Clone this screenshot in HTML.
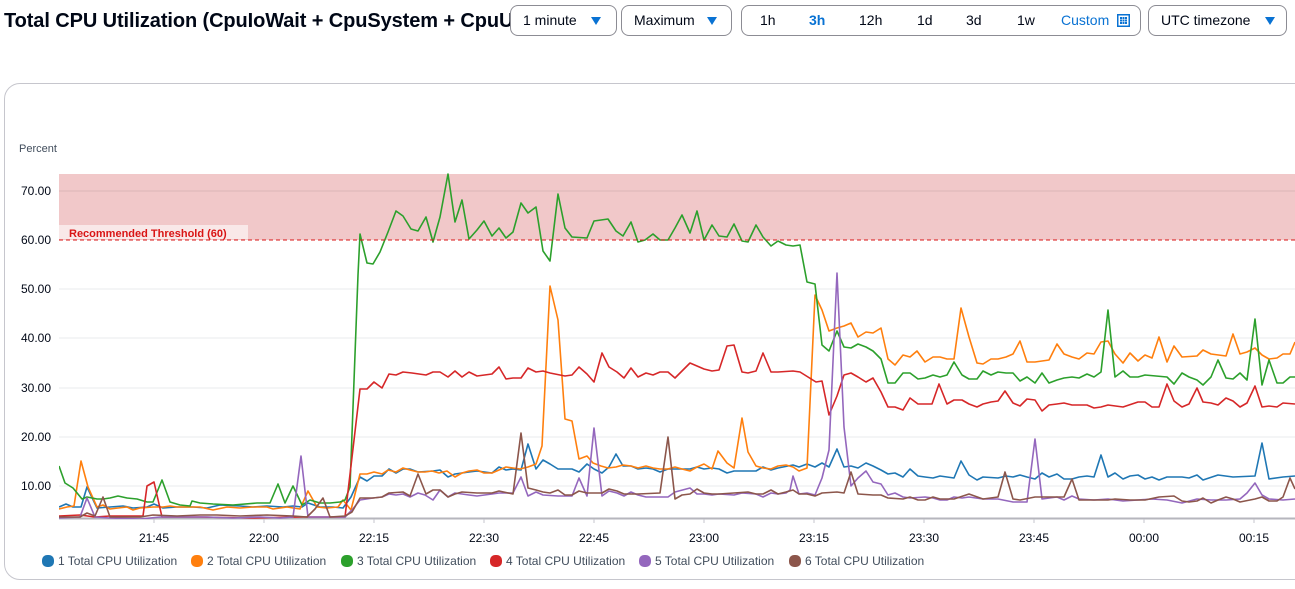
<!DOCTYPE html>
<html><head><meta charset="utf-8">
<style>
html,body{margin:0;padding:0;background:#fff;}
body{width:1295px;height:589px;position:relative;overflow:hidden;font-family:"Liberation Sans",sans-serif;color:#000716;}
.title{position:absolute;left:4px;top:6px;width:506px;height:30px;overflow:hidden;white-space:nowrap;font-weight:bold;font-size:20px;letter-spacing:-0.1px;line-height:30px;color:#000716;}
.dd{position:absolute;top:5px;height:31px;border:1px solid #8c8c94;border-radius:8px;box-sizing:border-box;font-size:14px;line-height:29px;background:#fff;color:#000716;}
.dd .t{position:absolute;left:12px;top:0;}
.tri{position:absolute;top:11px;width:0;height:0;border-left:5px solid transparent;border-right:5px solid transparent;border-top:8px solid #0972d3;}
.seg{position:absolute;left:741px;top:5px;width:400px;height:31px;border:1px solid #8c8c94;border-radius:8px;box-sizing:border-box;font-size:14px;line-height:29px;}
.seg span{position:absolute;top:0;}
.card{position:absolute;left:4px;top:83px;width:1320px;height:497px;border:1px solid #c6c6cd;border-radius:16px;box-sizing:border-box;}
</style></head><body>
<div class="title">Total CPU Utilization (CpuIoWait + CpuSystem + CpuUsed)</div>
<div class="dd" style="left:510px;width:107px;"><span class="t">1 minute</span><span class="tri" style="left:80px;"></span></div>
<div class="dd" style="left:621px;width:111px;"><span class="t">Maximum</span><span class="tri" style="left:85px;"></span></div>
<div class="seg">
<span style="left:18px;">1h</span>
<span style="left:67px;font-weight:bold;color:#0972d3;">3h</span>
<span style="left:117px;">12h</span>
<span style="left:175px;">1d</span>
<span style="left:224px;">3d</span>
<span style="left:275px;">1w</span>
<span style="left:319px;color:#0972d3;">Custom</span>
<svg style="position:absolute;left:375px;top:8px;" width="13" height="13" viewBox="0 0 13 13"><rect x="0.75" y="0.75" width="11.5" height="11.5" fill="none" stroke="#0972d3" stroke-width="1.5"/><g fill="#0972d3"><rect x="3" y="3" width="2" height="2"/><rect x="5.5" y="3" width="2" height="2"/><rect x="8" y="3" width="2" height="2"/><rect x="3" y="5.5" width="2" height="2"/><rect x="5.5" y="5.5" width="2" height="2"/><rect x="8" y="5.5" width="2" height="2"/><rect x="3" y="8" width="2" height="2"/><rect x="5.5" y="8" width="2" height="2"/><rect x="8" y="8" width="2" height="2"/></g></svg>
</div>
<div class="dd" style="left:1148px;width:139px;"><span class="t">UTC timezone</span><span class="tri" style="left:116px;"></span></div>
<div class="card"></div>

<svg style="position:absolute;left:0;top:0;" width="1295" height="589" viewBox="0 0 1295 589" font-family="Liberation Sans, sans-serif">
<defs><clipPath id="pc"><rect x="59" y="168" width="1236" height="351"/></clipPath></defs>
<text x="19" y="152" font-size="11" fill="#414d5c">Percent</text>
<rect x="59" y="174" width="1236" height="66" fill="#f1c8c9"/>
<g stroke="#e9ebed" stroke-width="1">
<line x1="59" y1="191" x2="1295" y2="191" stroke="#dcb6b7"/>
<line x1="59" y1="289" x2="1295" y2="289"/>
<line x1="59" y1="338" x2="1295" y2="338"/>
<line x1="59" y1="388" x2="1295" y2="388"/>
<line x1="59" y1="437" x2="1295" y2="437"/>
<line x1="59" y1="486" x2="1295" y2="486"/>
</g>
<g font-size="12" fill="#000716" text-anchor="end">
<text x="51" y="195">70.00</text>
<text x="51" y="244">60.00</text>
<text x="51" y="293">50.00</text>
<text x="51" y="342">40.00</text>
<text x="51" y="392">30.00</text>
<text x="51" y="441">20.00</text>
<text x="51" y="490">10.00</text>
</g>
<line x1="59" y1="518.5" x2="1295" y2="518.5" stroke="#b6b6bd" stroke-width="2"/>
<g stroke="#c6c6cd" stroke-width="1">
<line x1="154" y1="519" x2="154" y2="523"/><line x1="264" y1="519" x2="264" y2="523"/><line x1="374" y1="519" x2="374" y2="523"/><line x1="484" y1="519" x2="484" y2="523"/><line x1="594" y1="519" x2="594" y2="523"/><line x1="704" y1="519" x2="704" y2="523"/><line x1="814" y1="519" x2="814" y2="523"/><line x1="924" y1="519" x2="924" y2="523"/><line x1="1034" y1="519" x2="1034" y2="523"/><line x1="1144" y1="519" x2="1144" y2="523"/><line x1="1254" y1="519" x2="1254" y2="523"/>
</g>
<g font-size="12" fill="#000716" text-anchor="middle">
<text x="154" y="542">21:45</text><text x="264" y="542">22:00</text><text x="374" y="542">22:15</text><text x="484" y="542">22:30</text><text x="594" y="542">22:45</text><text x="704" y="542">23:00</text><text x="814" y="542">23:15</text><text x="924" y="542">23:30</text><text x="1034" y="542">23:45</text><text x="1144" y="542">00:00</text><text x="1254" y="542">00:15</text>
</g>
<g clip-path="url(#pc)" fill="none" stroke-width="1.6" stroke-linejoin="round">
<polyline stroke="#1f77b4" points="59,507 66,504 73,507 81,507 87,487 97,508 110,507 123,506 133,508 147,507 154,504 163,508 177,507 193,507 207,508 220,505 240,506 253,507 267,506 283,507 293,506 302,507 308,503 320,507 333,507 343,508 351,497 360,477 367,481 374,476 382,476 389,469 396,473 403,469 410,469 418,472 433,471 440,470 448,477 455,474 469,472 477,471 492,473 499,467 506,470 513,469 521,470 528,444 536,469 543,460 550,464 558,469 565,469 572,469 579,472 587,464 594,469 602,473 609,467 616,454 623,466 631,466 638,469 646,468 653,469 660,472 668,469 675,469 690,469 697,467 704,469 712,468 719,469 727,473 734,471 748,471 756,471 763,467 771,470 778,468 793,465 799,467 807,464 815,467 822,463 829,467 837,449 844,467 851,466 858,468 866,463 873,466 881,470 888,474 895,473 903,477 910,469 918,476 925,477 933,478 940,476 947,477 954,478 961,461 969,475 977,480 983,477 998,478 1006,476 1013,477 1020,475 1027,477 1035,479 1042,473 1049,477 1057,474 1064,479 1072,479 1079,477 1087,476 1094,477 1101,455 1108,477 1115,473 1123,479 1130,476 1138,475 1145,479 1152,477 1159,480 1167,477 1182,477 1189,478 1197,475 1203,480 1218,475 1233,477 1255,476 1262,443 1269,479 1283,477 1295,476"/>
<polyline stroke="#ff7f0e" points="59,509 67,507 74,506 81,461 88,487 97,507 103,505 110,509 118,508 127,507 133,510 140,508 153,507 163,507 170,506 177,507 187,507 200,507 213,510 227,507 240,508 253,507 267,507 273,509 287,507 300,509 308,491 317,507 327,508 338,507 343,500 351,510 360,474 367,474 374,472 382,474 388,470 396,472 403,468 410,470 418,472 425,472 432,471 439,473 447,471 455,477 462,473 469,471 477,470 484,473 492,473 499,470 506,467 513,468 520,469 528,467 536,464 542,446 550,286 558,320 565,419 572,421 579,459 587,456 593,463 601,466 608,468 616,467 623,465 631,466 638,468 646,466 653,468 660,469 668,469 675,467 682,469 690,471 697,467 704,464 712,469 718,451 727,463 734,468 742,418 748,452 756,466 763,468 771,469 778,466 786,465 793,467 799,471 807,468 815,295 822,310 829,331 837,328 844,326 851,323 858,337 866,332 873,333 881,328 888,359 895,365 903,355 910,357 917,351 925,362 933,357 940,357 947,359 954,359 961,308 969,337 977,363 983,364 991,359 998,359 1006,357 1013,354 1020,341 1027,362 1035,362 1049,360 1057,344 1064,354 1072,357 1079,359 1087,353 1094,354 1101,342 1108,341 1115,354 1123,363 1130,353 1138,361 1145,355 1152,358 1159,337 1167,362 1174,346 1182,357 1197,356 1203,350 1211,354 1226,356 1233,334 1240,354 1247,352 1255,348 1262,355 1269,359 1277,358 1283,354 1290,354 1295,342"/>
<polyline stroke="#2ca02c" points="59,466 65,483 73,488 82,499 87,497 97,499 103,499 110,498 118,496 127,498 137,499 147,502 153,502 162,480 170,502 180,505 190,506 192,501 200,503 213,504 233,505 257,503 270,503 278,484 285,503 293,486 302,505 310,500 320,503 330,503 340,502 345,500 350,487 358,275 360,234 367,263 373,264 380,252 388,232 396,211 403,216 411,229 418,231 426,217 433,242 440,217 448,174 455,222 462,200 469,239 477,230 484,221 492,236 499,228 506,238 513,232 521,203 528,213 536,207 543,251 550,261 558,194 565,228 572,237 587,238 594,221 608,219 616,231 623,236 631,222 638,242 645,240 653,234 660,240 668,240 675,228 682,215 690,233 697,211 704,240 712,225 719,236 727,237 734,224 742,241 748,242 756,225 763,237 771,246 778,241 786,245 793,246 800,245 807,282 815,284 822,345 829,351 837,331 844,347 851,348 858,344 866,347 873,351 881,359 888,383 895,383 903,373 910,373 918,379 925,378 933,375 940,377 947,375 954,362 962,375 969,379 977,379 983,371 991,375 998,372 1006,373 1013,373 1020,381 1027,377 1035,383 1042,373 1049,383 1057,380 1064,378 1072,377 1079,378 1087,374 1094,377 1101,372 1108,310 1115,377 1123,371 1130,377 1138,377 1145,375 1167,377 1174,384 1182,373 1189,377 1197,380 1203,385 1211,377 1218,360 1226,378 1233,379 1240,373 1247,380 1255,319 1262,385 1269,360 1277,383 1283,383 1290,377 1295,377"/>
<polyline stroke="#d62728" points="59,516 80,515 95,517 110,516 143,516 147,486 154,482 162,517 200,517 250,518 300,517 343,517 345,517 360,389 367,389 374,382 382,388 389,374 396,375 403,372 412,373 426,375 433,372 440,372 448,377 455,371 462,377 469,372 477,376 492,374 499,367 506,379 513,378 521,378 528,368 536,372 543,371 550,373 565,376 572,375 579,367 587,374 594,382 602,353 609,367 617,372 624,378 631,368 638,377 646,373 653,375 660,372 668,372 675,378 690,363 697,366 704,369 712,371 719,370 727,346 734,345 742,372 748,373 756,371 763,353 771,372 778,372 793,371 800,372 808,377 816,382 822,381 829,415 837,396 844,375 851,373 858,377 866,382 873,378 881,392 888,407 895,407 903,410 910,398 918,404 932,404 939,384 947,404 954,400 962,400 969,404 977,407 983,404 991,402 998,401 1005,391 1013,403 1020,406 1027,399 1035,400 1042,411 1049,405 1057,404 1064,403 1072,405 1087,405 1094,408 1101,407 1108,405 1123,407 1138,402 1145,402 1152,407 1159,407 1167,384 1174,401 1182,407 1189,404 1197,388 1203,402 1211,403 1218,405 1226,398 1233,401 1240,407 1247,403 1255,386 1262,407 1269,406 1277,407 1283,403 1295,404"/>
<polyline stroke="#9467bd" points="59,518 80,517 87,498 95,517 110,518 140,519 160,517 183,517 207,517 233,518 260,517 280,518 293,517 301,456 308,517 320,517 333,517 345,517 352,510 360,500 373,498 382,497 389,494 396,495 403,494 410,497 418,493 425,495 433,500 440,490 448,497 455,493 469,495 477,496 492,494 499,493 513,493 521,477 528,496 536,492 543,495 558,496 565,496 572,496 579,478 587,496 594,428 602,496 609,491 617,493 624,496 631,492 638,495 646,497 660,497 668,497 675,492 690,488 697,494 704,494 712,495 719,494 734,495 742,493 756,494 763,497 771,493 778,494 786,493 790,490 793,476 799,494 807,493 815,495 822,478 829,450 837,273 844,427 851,486 858,478 866,471 873,482 881,484 888,495 895,493 903,497 910,498 925,497 933,498 940,500 947,500 954,497 962,498 969,497 983,499 998,499 1013,502 1027,502 1035,439 1042,499 1057,497 1064,500 1072,496 1079,499 1094,500 1108,499 1123,501 1138,500 1152,499 1167,500 1182,503 1197,499 1211,500 1226,500 1240,499 1247,493 1255,483 1262,495 1269,499 1283,500 1295,499"/>
<polyline stroke="#8c564b" points="59,517 80,517 87,513 95,516 103,497 110,517 140,517 153,515 177,516 200,515 217,515 240,516 267,515 293,516 307,517 315,509 323,498 330,517 345,516 352,512 360,498 373,498 382,497 389,493 403,492 410,496 418,474 426,494 433,490 440,490 448,497 455,494 462,492 477,493 492,493 499,491 513,494 521,433 528,488 536,490 543,492 550,493 558,490 565,495 572,495 579,491 587,493 594,493 602,493 609,489 617,491 624,494 638,494 660,493 668,437 675,499 682,495 690,494 697,489 704,493 712,494 719,494 734,493 748,492 756,494 763,494 771,490 778,494 786,492 793,490 799,494 807,494 815,496 822,493 837,492 844,493 851,472 858,494 873,495 881,495 888,498 903,499 910,497 918,500 925,500 933,497 940,499 954,499 969,494 983,499 998,497 1005,472 1013,499 1020,500 1035,497 1057,497 1064,497 1072,479 1079,500 1094,500 1108,500 1115,499 1130,500 1145,500 1159,497 1174,496 1182,501 1189,502 1197,501 1203,498 1211,503 1218,500 1226,497 1233,499 1240,502 1255,499 1262,497 1269,501 1277,501 1283,497 1290,478 1295,489"/>
</g>
<line x1="59" y1="240" x2="1295" y2="240" stroke="#d91515" stroke-width="1" stroke-dasharray="4,3"/>
<rect x="59" y="225" width="189" height="14" fill="#f9e8e8"/>
<text x="69" y="237" font-size="11" font-weight="bold" fill="#d91515">Recommended Threshold (60)</text>
<g font-size="12" fill="#414d5c">
<rect x="42" y="555" width="12" height="12" rx="5" fill="#1f77b4"/><text x="58" y="565">1 Total CPU Utilization</text>
<rect x="191" y="555" width="12" height="12" rx="5" fill="#ff7f0e"/><text x="207" y="565">2 Total CPU Utilization</text>
<rect x="341" y="555" width="12" height="12" rx="5" fill="#2ca02c"/><text x="357" y="565">3 Total CPU Utilization</text>
<rect x="490" y="555" width="12" height="12" rx="5" fill="#d62728"/><text x="506" y="565">4 Total CPU Utilization</text>
<rect x="639" y="555" width="12" height="12" rx="5" fill="#9467bd"/><text x="655" y="565">5 Total CPU Utilization</text>
<rect x="789" y="555" width="12" height="12" rx="5" fill="#8c564b"/><text x="805" y="565">6 Total CPU Utilization</text>
</g>
</svg>
</body></html>
